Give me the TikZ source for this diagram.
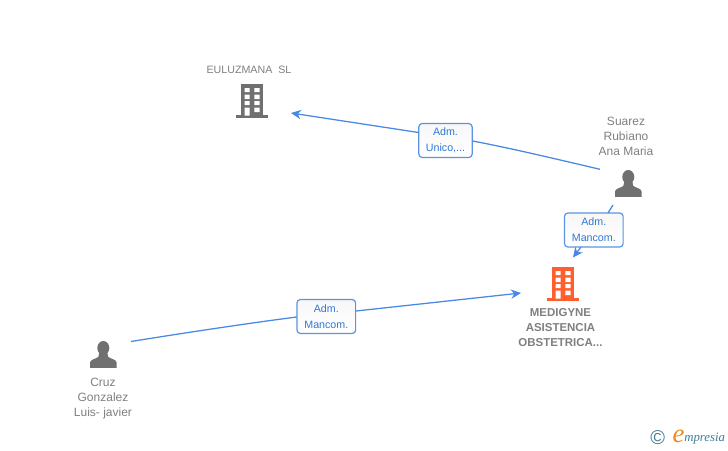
\documentclass[tikz,border=0pt]{standalone}
\usepackage{fontspec}
\setmainfont{Liberation Sans}
\newfontfamily\logofont{Liberation Serif}
\usetikzlibrary{arrows.meta,shadings}
\definecolor{linkblue}{HTML}{4A89E3}
\definecolor{edgeblue}{HTML}{5B95E2}
\definecolor{labelblue}{HTML}{2F78D6}
\definecolor{icongrey}{HTML}{707070}
\definecolor{textgrey}{HTML}{808080}
\definecolor{iconorange}{HTML}{FF5F2E}
\definecolor{logoteal}{HTML}{3F7F96}
\definecolor{logoorange}{HTML}{F08A1D}
\tikzset{
  x=0.75pt,y=-0.75pt,
  iconbox/.style={inner sep=0pt,outer sep=0pt,minimum width=24pt,minimum height=24pt},
  namelabel/.style={align=center,text=textgrey,font=\fontsize{9pt}{11.25pt}\selectfont,inner sep=0pt},
  boldlabel/.style={align=center,text=textgrey,font=\fontsize{8.6pt}{11.25pt}\selectfont\bfseries,inner sep=0pt},
  rolebox/.style={draw=edgeblue,line width=0.9pt,rounded corners=2.6pt,top color=white!97!black,bottom color=white,
    text=labelblue,align=center,inner sep=0pt,font=\fontsize{8pt}{12pt}\selectfont},
  link/.style={draw=linkblue,line width=0.95pt},
  arrowlink/.style={link,-{Stealth[length=7.5pt,width=7pt]}},
  building/.pic={
    \fill[pic actions] (-11,-16) rectangle (11,15.5);
    \fill[pic actions] (-16,15) rectangle (16,18);
    \fill[white] (-7.5,-12) rectangle (-2.5,-7.8) (2.3,-12) rectangle (7.5,-7.8)
      (-7.5,-5.5) rectangle (-2.5,-1) (2.3,-5.5) rectangle (7.5,-1)
      (-7.5,1) rectangle (-2.5,5.2) (2.3,1) rectangle (7.5,5.2)
      (-7.5,7.5) rectangle (-2.5,15.5) (2.3,7.5) rectangle (7.5,12);
  },
  person/.pic={
    \fill[icongrey] (0,-6.5) ellipse [x radius=6,y radius=7];
    \fill[icongrey] (-13.3,13.3) -- (-13.3,8) .. controls (-13,5) and (-8,4.5) .. (-5,2.5)
      -- (-4,-2) -- (4,-2) -- (5,2.5) .. controls (8,4.5) and (13,5) .. (13.3,8) -- (13.3,13.3) -- cycle;
  }
}
\begin{document}
\begin{tikzpicture}
\useasboundingbox (0,0) rectangle (728,450);
\fill[white] (0,0) rectangle (728,450);

% icons
\node[iconbox] (euluz) at (252,100) {};
\pic[icongrey,fill=icongrey] at (euluz) {building};
\node[iconbox] (medi) at (563,283) {};
\pic[iconorange,fill=iconorange] at (medi) {building};
\node[iconbox] (suarez) at (628.3,183.5) {};
\pic at (suarez) {person};
\node[iconbox] (cruz) at (103.3,354.5) {};
\pic at (cruz) {person};

% names
\node[namelabel,font=\fontsize{8pt}{11.25pt}\selectfont] (euluzname) at (249,70) {EULUZMANA\ \ SL};
\node[namelabel] (suarezname) at (626,136.5) {Suarez\\Rubiano\\Ana Maria};
\node[namelabel] (cruzname) at (103,398.5) {Cruz\\Gonzalez\\Luis- javier};
\node[boldlabel] (mediname) at (560.5,328) {MEDIGYNE\\ASISTENCIA\\OBSTETRICA...};

% role boxes
\node[rolebox,minimum width=40pt,minimum height=25.5pt] (role1) at (445.5,140.5) {Adm.\\Unico,...};
\node[rolebox,minimum width=44pt,minimum height=25.5pt] (role2) at (593.8,230) {Adm.\\Mancom.};
\node[rolebox,minimum width=44pt,minimum height=25.5pt] (role3) at (326.3,316.5) {Adm.\\Mancom.};

% connectors
\draw[link] ([shift={(-28.3,-14.2)}]suarez.center) .. controls ([shift={(-68,-23.5)}]suarez.center) and ([shift={(64.5,7.5)}]role1.center) .. ([shift={(27,0.5)}]role1.center);
\draw[arrowlink] ([shift={(-27,-8)}]role1.center) -- ([shift={(39,13)}]euluz.center);
\draw[link] ([shift={(-15.3,21.5)}]suarez.center) -- ([shift={(14.2,-17)}]role2.center);
\draw[arrowlink] ([shift={(-12.8,17)}]role2.center) -- ([shift={(10,-25.5)}]medi.center);
\draw[link] ([shift={(27.7,-13)}]cruz.center) .. controls ([shift={(86.7,-22.5)}]cruz.center) and ([shift={(-76,6.5)}]role3.center) .. ([shift={(-29.6,0.5)}]role3.center);
\draw[arrowlink] ([shift={(29.7,-5.5)}]role3.center) -- ([shift={(-42,10)}]medi.center);

% logo
\node[inner sep=0pt,text=logoteal,font=\fontsize{15pt}{15pt}\selectfont] (copy) at (657.7,438) {©};
\node[inner sep=0pt,text=logoorange,font=\logofont\itshape\fontsize{20pt}{20pt}\selectfont] (logoe) at (678.5,436) {e};
\node[inner sep=0pt,anchor=west,text=logoteal,font=\logofont\itshape\fontsize{9.6pt}{10pt}\selectfont] (logotext) at (684,439) {mpresia};
\end{tikzpicture}
\end{document}
